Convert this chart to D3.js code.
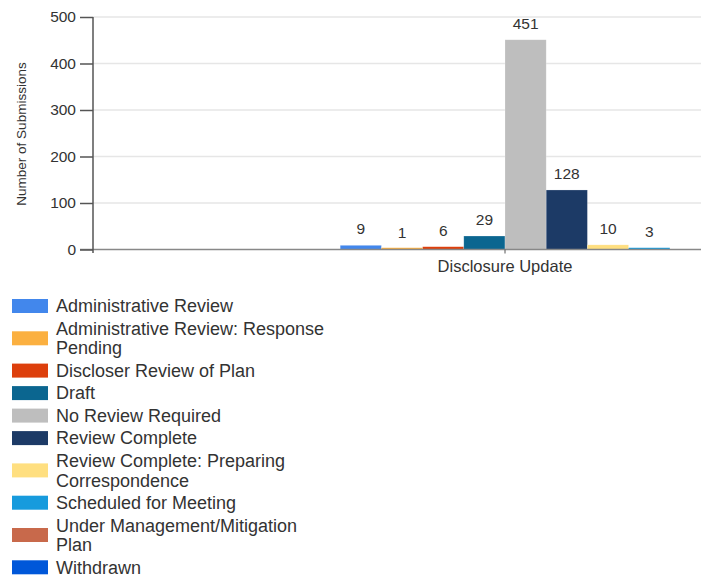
<!DOCTYPE html>
<html>
<head>
<meta charset="utf-8">
<script src="https://cdn.jsdelivr.net/npm/d3@7"></script>
<style>
  html, body { margin: 0; padding: 0; background: #fff; }
  svg { display: block; font-family: "Liberation Sans", Arial, sans-serif; }
</style>
</head>
<body>
<svg id="chart" width="706" height="577"></svg>
<script>
const categories = ["Disclosure Update"];
const seriesNames = [
  "Administrative Review",
  "Administrative Review: Response Pending",
  "Discloser Review of Plan",
  "Draft",
  "No Review Required",
  "Review Complete",
  "Review Complete: Preparing Correspondence",
  "Scheduled for Meeting",
  "Under Management/Mitigation Plan",
  "Withdrawn"
];
const seriesValues = [9, 1, 6, 29, 451, 128, 10, 3, null, null];
const seriesColors = ["#4287ec", "#fbb040", "#dd3f0c", "#0b6690", "#bebebe", "#1c3a66", "#ffdf80", "#179bdd", "#c8694b", "#0057d9"];
const yTicks = [0, 100, 200, 300, 400, 500];
const yTitle = "Number of Submissions";

(function () {
const svg = d3.select("#chart");
const mLeft = 93, mTop = 17, mBottom = 249.5, plotRight = 917, visibleRight = 701;

const y = d3.scaleLinear().domain([0, 500]).range([mBottom, mTop]);
const x0 = d3.scaleBand().domain(categories).range([mLeft, plotRight]).padding(0);
const present = seriesNames.filter((s, i) => seriesValues[i] != null);
const x1 = d3.scaleBand().domain(present).range([0, x0.bandwidth()]).paddingOuter(6).paddingInner(0);
const color = d3.scaleOrdinal().domain(seriesNames).range(seriesColors);

// gridlines
svg.append("g").selectAll("line").data(yTicks.filter(t => t > 0)).join("line")
  .attr("x1", mLeft).attr("x2", visibleRight)
  .attr("y1", d => y(d)).attr("y2", d => y(d))
  .attr("stroke", "#e6e6e6").attr("stroke-width", 1.5);

// bars
const data = seriesNames.map((s, i) => ({ s, v: seriesValues[i] })).filter(d => d.v != null);
const minH = 1.8;
const g = svg.append("g").attr("transform", `translate(${x0(categories[0])},0)`);
g.selectAll("rect").data(data).join("rect")
  .attr("x", d => x1(d.s))
  .attr("y", d => Math.min(y(d.v), y(0) - minH))
  .attr("width", x1.bandwidth())
  .attr("height", d => Math.max(y(0) - y(d.v), minH))
  .attr("fill", d => color(d.s))
  .attr("stroke", "#ffffff").attr("stroke-opacity", 0.35).attr("stroke-width", 0.6);
g.selectAll("text").data(data).join("text")
  .attr("x", d => x1(d.s) + x1.bandwidth() / 2)
  .attr("y", d => y(d.v) - 11)
  .attr("text-anchor", "middle")
  .attr("font-size", 15.5)
  .attr("fill", "#333")
  .text(d => d.v);

// x axis
svg.append("line").attr("x1", 80).attr("x2", visibleRight)
  .attr("y1", y(0)).attr("y2", y(0)).attr("stroke", "#888").attr("stroke-width", 1.5);
const xAxis = d3.axisBottom(x0).tickSize(4).tickPadding(7);
const xg = svg.append("g").attr("transform", `translate(0,${y(0)})`).call(xAxis);
xg.select(".domain").remove();
xg.selectAll(".tick line").attr("stroke", "#555");
xg.selectAll(".tick text").attr("font-size", 16.5).attr("fill", "#333")
  .attr("font-family", "Liberation Sans, Arial, sans-serif");

// y axis
const yAxis = d3.axisLeft(y).tickValues(yTicks).tickSize(13).tickPadding(4);
const yg = svg.append("g").attr("transform", `translate(${mLeft},0)`).call(yAxis);
yg.select(".domain").remove();
yg.append("line").attr("x1", 0).attr("x2", 0).attr("y1", mTop).attr("y2", y(0) + 3.5)
  .attr("stroke", "#555").attr("stroke-width", 1.5);
yg.selectAll(".tick line").attr("stroke", "#555").attr("stroke-width", 1.5);
yg.selectAll(".tick text").attr("font-size", 15.5).attr("fill", "#333")
  .attr("font-family", "Liberation Sans, Arial, sans-serif");

svg.append("text")
  .attr("transform", `translate(25.5,134) rotate(-90)`)
  .attr("text-anchor", "middle")
  .attr("font-size", 13.5).attr("fill", "#333")
  .text(yTitle);

// legend
const legend = svg.append("g");
const maxW = 272, lineH = 19.6, baseH = 22.5;
let cy = 306 - baseH / 2;
seriesNames.forEach((name, i) => {
  const item = legend.append("g");
  const t = item.append("text").attr("font-size", 18).attr("fill", "#333").attr("x", 56);
  const words = name.split(" ");
  let lines = [], cur = "";
  const probe = svg.append("text").attr("font-size", 18);
  words.forEach(w => {
    const test = cur ? cur + " " + w : w;
    probe.text(test);
    if (probe.node().getComputedTextLength() > maxW && cur) { lines.push(cur); cur = w; }
    else cur = test;
  });
  lines.push(cur);
  probe.remove();
  const h = baseH + (lines.length - 1) * lineH;
  const center = cy + h / 2;
  item.append("rect").attr("x", 12).attr("y", center - 7).attr("width", 36).attr("height", 14)
    .attr("fill", seriesColors[i]);
  lines.forEach((ln, k) => {
    t.append("tspan").attr("x", 56)
      .attr("y", center + (k - (lines.length - 1) / 2) * lineH)
      .attr("dy", "0.35em").text(ln);
  });
  cy += h;
});
})();
</script>
</body>
</html>
